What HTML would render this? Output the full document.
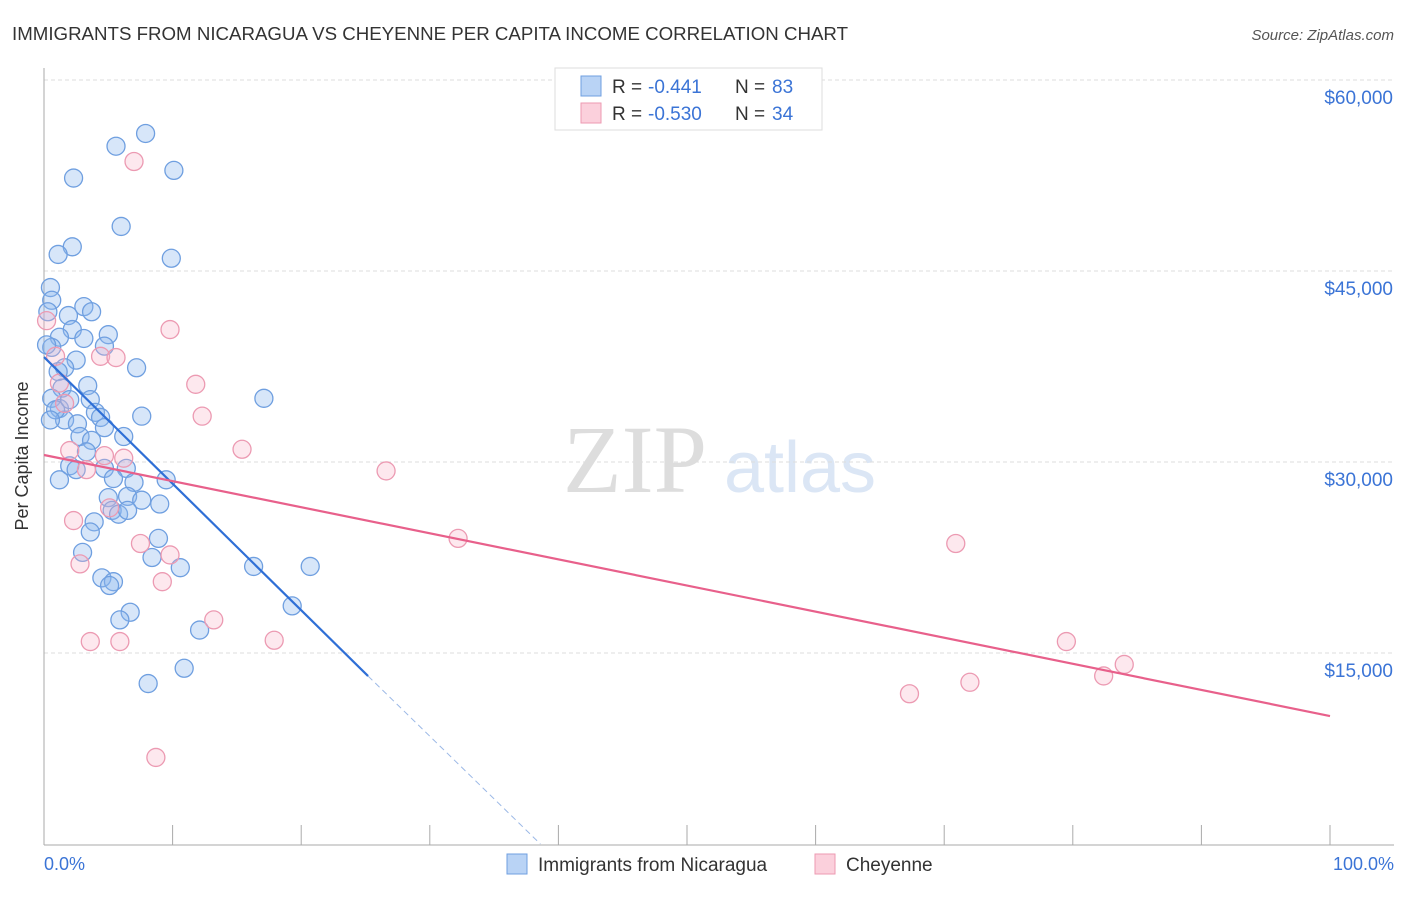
<!DOCTYPE html>
<html><head><meta charset="utf-8"><style>
body{margin:0;background:#fff;font-family:"Liberation Sans",sans-serif}
</style></head><body>
<svg width="1406" height="892" xmlns="http://www.w3.org/2000/svg" font-family="Liberation Sans, sans-serif">
<text x="12" y="40" font-size="18" fill="#333" textLength="836" lengthAdjust="spacingAndGlyphs">IMMIGRANTS FROM NICARAGUA VS CHEYENNE PER CAPITA INCOME CORRELATION CHART</text>
<text x="1394" y="40" font-size="15" fill="#555" font-style="italic" text-anchor="end">Source: ZipAtlas.com</text>
<text x="635" y="492" font-size="96" fill="#ddd" text-anchor="middle" font-family="Liberation Serif, serif">ZIP</text>
<text x="800" y="492" font-size="72" fill="#dbe6f5" text-anchor="middle">atlas</text>
<g id="grid"></g>
<line x1="44" y1="68" x2="44" y2="845" stroke="#aaa"/>
<line x1="44" y1="845" x2="1394" y2="845" stroke="#aaa"/>
<g id="ticks"></g>
<text x="28" y="456" font-size="18" fill="#333" text-anchor="middle" transform="rotate(-90 28 456)">Per Capita Income</text>
<text x="44" y="870" font-size="18" fill="#3b74d6">0.0%</text>
<text x="1394" y="870" font-size="18" fill="#3b74d6" text-anchor="end">100.0%</text>
<g id="pts"></g>
<g id="lines"></g>
<g>
<rect x="555" y="68" width="267" height="62" fill="#fff" stroke="#ddd"/>
<rect x="581" y="76" width="20" height="20" fill="#b9d3f5" stroke="#6f9fe0"/>
<rect x="581" y="103" width="20" height="20" fill="#fbd0dc" stroke="#ec9ab2"/>
<text x="612" y="93" font-size="19" fill="#333">R =</text>
<text x="648" y="93" font-size="19" fill="#3b74d6">-0.441</text>
<text x="735" y="93" font-size="19" fill="#333">N =</text>
<text x="772" y="93" font-size="19" fill="#3b74d6">83</text>
<text x="612" y="120" font-size="19" fill="#333">R =</text>
<text x="648" y="120" font-size="19" fill="#3b74d6">-0.530</text>
<text x="735" y="120" font-size="19" fill="#333">N =</text>
<text x="772" y="120" font-size="19" fill="#3b74d6">34</text>
</g>
<g>
<rect x="507" y="854" width="20" height="20" fill="#b9d3f5" stroke="#6f9fe0"/>
<text x="538" y="871" font-size="19" fill="#333">Immigrants from Nicaragua</text>
<rect x="815" y="854" width="20" height="20" fill="#fbd0dc" stroke="#ec9ab2"/>
<text x="846" y="871" font-size="19" fill="#333">Cheyenne</text>
</g>
</svg>
<script>
const yTicks=[15000,30000,45000,60000];
const yTickLabels=["$15,000","$30,000","$45,000","$60,000"];
const xTicks=[0,10,20,30,40,50,60,70,80,90,100];
const blueX=[7.9,5.6,2.3,10.1,6.0,2.2,1.1,9.9,0.5,0.6,0.3,3.1,3.7,1.9,2.2,1.2,3.1,5.0,4.7,0.6,2.5,1.6,7.2,1.1,1.4,3.4,0.6,3.6,1.2,4.0,4.4,7.6,1.6,2.6,4.7,2.8,3.7,6.2,17.1,3.3,2.0,2.5,4.7,6.4,5.4,7.0,9.5,5.0,6.5,7.6,9.0,5.3,5.8,6.5,3.9,3.6,8.9,3.0,8.4,10.6,16.3,20.7,4.5,5.4,5.1,6.7,5.9,19.3,12.1,10.9,8.1,0.9,0.2,2.0,0.5,1.2];
const blueY=[55800,54800,52300,52900,48500,46900,46300,46000,43700,42700,41800,42200,41800,41500,40400,39800,39700,40000,39100,39000,38000,37400,37400,37100,35800,36000,35000,34900,34200,33900,33500,33600,33300,33000,32700,32000,31700,32000,35000,30800,29700,29400,29500,29500,28700,28400,28600,27200,27300,27000,26700,26200,25900,26200,25300,24500,24000,22900,22500,21700,21800,21800,20900,20600,20300,18200,17600,18700,16800,13800,12600,34100,39200,34900,33300,28600];
const pinkX=[7.0,9.8,4.4,5.6,0.9,0.2,11.8,12.3,1.6,15.4,2.0,4.7,6.2,3.3,26.6,2.3,5.1,32.2,7.5,9.8,2.8,9.2,13.2,3.6,5.9,17.9,8.7,70.9,67.3,72.0,79.5,84.0,82.4,1.2];
const pinkY=[53600,40400,38300,38200,38300,41100,36100,33600,34600,31000,30900,30500,30300,29400,29300,25400,26400,24000,23600,22700,22000,20600,17600,15900,15900,16000,6800,23600,11800,12700,15900,14100,13200,36200];
const blueTrend=[[0,38240],[25.2,13190],[38.6,0]];
const pinkTrend=[[0,30550],[100,10050]];
const X=v=>44+v*12.86, Y=v=>844-v*191/15000;
const NS="http://www.w3.org/2000/svg";
function mk(tag,attrs,parent){const e=document.createElementNS(NS,tag);for(const k in attrs)e.setAttribute(k,attrs[k]);document.getElementById(parent).appendChild(e);return e;}
yTicks.forEach((t,i)=>{
 const l=mk('line',{x1:44,x2:1394,y1:Y(t),y2:Y(t),stroke:'#ddd','stroke-dasharray':'4,3'},'grid');
 
 
 const tx=mk('text',{x:1393,y:Y(t)+24,'font-size':19,fill:'#3b74d6','text-anchor':'end'},'grid');
 tx.textContent=yTickLabels[i];
 
 
});
xTicks.forEach(t=>{
 const l=mk('line',{x1:X(t),x2:X(t),y1:825,y2:845,stroke:'#aaa'},'ticks');
 
 
});
blueX.forEach((x,i)=>{
 const c=mk('circle',{cx:X(x),cy:Y(blueY[i]),r:9,fill:'rgba(140,182,238,0.35)',stroke:'#6f9fe0','stroke-width':1.3},'pts');
 
 
});
pinkX.forEach((x,i)=>{
 const c=mk('circle',{cx:X(x),cy:Y(pinkY[i]),r:9,fill:'rgba(248,180,200,0.3)',stroke:'#ec9ab2','stroke-width':1.3},'pts');
 
 
});
let b=mk('line',{x1:X(blueTrend[0][0]),y1:Y(blueTrend[0][1]),x2:X(blueTrend[1][0]),y2:Y(blueTrend[1][1]),stroke:'#2f6fd6','stroke-width':2.2},'lines');


let bd=mk('line',{x1:X(blueTrend[1][0]),y1:Y(blueTrend[1][1]),x2:X(blueTrend[2][0]),y2:Y(blueTrend[2][1]),stroke:'#9bb8e6','stroke-width':1,'stroke-dasharray':'6,4'},'lines');


let p=mk('line',{x1:X(pinkTrend[0][0]),y1:Y(pinkTrend[0][1]),x2:X(pinkTrend[1][0]),y2:Y(pinkTrend[1][1]),stroke:'#e8608b','stroke-width':2.2},'lines');


</script>
</body></html>
